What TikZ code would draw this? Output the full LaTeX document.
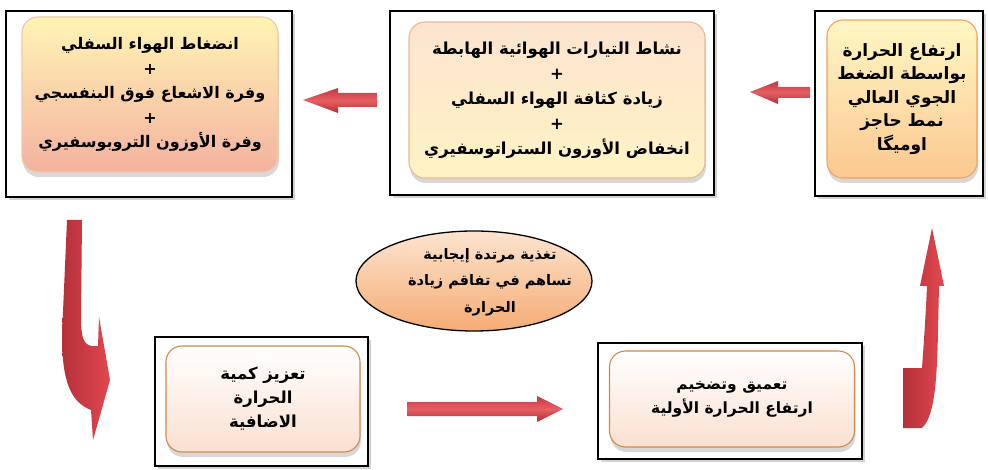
\documentclass[tikz,border=0pt]{standalone}
\usepackage{fontspec}
\newfontfamily\arabicfont[Script=Arabic]{DejaVu Sans}
\TeXXeTstate=1
\usetikzlibrary{shapes.geometric,shadows}
\newcommand\artxt[1]{{\arabicfont\bfseries\beginR #1\endR}}
\newcommand\plusline{{\arabicfont\bfseries +}}
\definecolor{redtop}{HTML}{C23840}
\definecolor{redmid}{HTML}{E65F63}
\definecolor{redbot}{HTML}{B02D34}
\definecolor{redleft}{HTML}{B5303A}
\definecolor{redright}{HTML}{E2484E}
\definecolor{onetop}{HTML}{FFF4B4}
\definecolor{onebot}{HTML}{F4B2A0}
\definecolor{oneedge}{HTML}{F0C8A8}
\definecolor{twotop}{HTML}{FCE4D0}
\definecolor{twobot}{HTML}{FFF3C4}
\definecolor{twoedge}{HTML}{EEB890}
\definecolor{threetop}{HTML}{FFF7C4}
\definecolor{threebot}{HTML}{FBC890}
\definecolor{threeedge}{HTML}{F2A262}
\definecolor{lowbot}{HTML}{FAE0D0}
\definecolor{lowedge}{HTML}{D08A4C}
\definecolor{elltop}{HTML}{FCE4CF}
\definecolor{ellbot}{HTML}{F5AC74}
\begin{document}
\begin{tikzpicture}[x=1pt,y=-1pt,
  frame/.style={draw=black,line width=2.8pt,fill=white,inner sep=0pt,
    drop shadow={shadow xshift=3pt,shadow yshift=-3pt,opacity=0.35}},
  inbox/.style={rounded corners=16pt,line width=1.1pt,align=center,inner sep=0pt,
    drop shadow={shadow xshift=1pt,shadow yshift=-5pt,opacity=0.3}},
  flatarrow/.style={top color=redtop,bottom color=redbot,middle color=redmid,draw=none},
  bentarrow/.style={left color=redleft,right color=redright,draw=none},
]
\useasboundingbox (0,0) rectangle (988,470);

% outer frames
\node[frame,minimum width=286pt,minimum height=186pt] (f1) at (149,104) {};
\node[frame,minimum width=324pt,minimum height=184pt] (f2) at (552,103) {};
\node[frame,minimum width=168pt,minimum height=185pt] (f3) at (899,103.5) {};
\node[frame,minimum width=213pt,minimum height=129pt] (f4) at (261.5,401.5) {};
\node[frame,minimum width=264pt,minimum height=116pt] (f5) at (730,401) {};

% rounded boxes with the texts
\node[inbox,font=\fontsize{16}{24.5}\selectfont,draw=oneedge,top color=onetop,bottom color=onebot,
  minimum width=256pt,minimum height=155pt] (b1) at (150,94.5)
  {\artxt{انضغاط الهواء السفلي}\\\plusline\\\artxt{وفرة الاشعاع فوق البنفسجي}\\\plusline\\\artxt{وفرة الأوزون التروبوسفيري}};

\node[inbox,font=\fontsize{16.5}{25}\selectfont,draw=twoedge,top color=twotop,bottom color=twobot,
  minimum width=296pt,minimum height=156pt] (b2) at (557,100)
  {\artxt{نشاط التيارات الهوائية الهابطة}\\\plusline\\\artxt{زيادة كثافة الهواء السفلي}\\\plusline\\\artxt{انخفاض الأوزون الستراتوسفيري}};

\node[inbox,font=\fontsize{17}{23.5}\selectfont,draw=threeedge,top color=threetop,bottom color=threebot,
  minimum width=150pt,minimum height=158pt] (b3) at (902,99)
  {\artxt{ارتفاع الحرارة}\\\artxt{بواسطة الضغط}\\\artxt{الجوي العالي}\\\artxt{نمط حاجز}\\\artxt{اوميگا}};

\node[inbox,font=\fontsize{16.5}{24}\selectfont,draw=lowedge,top color=white,bottom color=lowbot,
  minimum width=194pt,minimum height=106pt] (b4) at (263,399)
  {\artxt{تعزيز كمية}\\\artxt{الحرارة}\\\artxt{الاضافية}};

\node[inbox,font=\fontsize{15.5}{24}\selectfont,draw=lowedge,top color=white,bottom color=lowbot,
  minimum width=245pt,minimum height=96pt] (b5) at (732,399)
  {\artxt{تعميق وتضخيم}\\\artxt{ارتفاع الحرارة الأولية}};

% feedback ellipse
\node[ellipse,draw=black,line width=1.3pt,top color=elltop,bottom color=ellbot,
  minimum width=236pt,minimum height=100pt,inner sep=0pt] (fb) at (474,281) {};
\node[align=center,inner sep=0pt,font=\fontsize{14.5}{26.5}\selectfont] (fbt) at (490,282)
  {\artxt{تغذية مرتدة إيجابية}\\\artxt{تساهم في تفاقم زيادة}\\\artxt{الحرارة}};

% straight block arrows
\shade[flatarrow] (750,92) -- (778,81) -- (778,87) -- (810,87) -- (810,98) -- (778,98) -- (778,104) -- cycle;
\shade[flatarrow] (303,100) -- (338,88) -- (338,93) -- (377,93) -- (377,107) -- (338,107) -- (338,113) -- cycle;
\shade[flatarrow] (563,409) -- (537,396) -- (537,402) -- (407,402) -- (407,416) -- (537,416) -- (537,422) -- cycle;

% bent arrow going down on the left
\shade[bentarrow] (67,220) -- (82,220) -- (81,318)
  .. controls (81,338) and (84,345) .. (92,346) -- (98,346) -- (99,317)
  -- (110,380) -- (101,412) -- (93,440) -- (91,410)
  .. controls (70,402) and (62,380) .. (62,335) -- cycle;

% bent arrow going up on the right
\shade[bentarrow] (932,228) -- (944,286) -- (939,286) -- (938,330)
  .. controls (937,390) and (933,418) .. (922,428) -- (903,428) -- (903,368) -- (922,368)
  .. controls (924,340) and (926,310) .. (927,286) -- (920,286) -- cycle;
\end{tikzpicture}
\end{document}
